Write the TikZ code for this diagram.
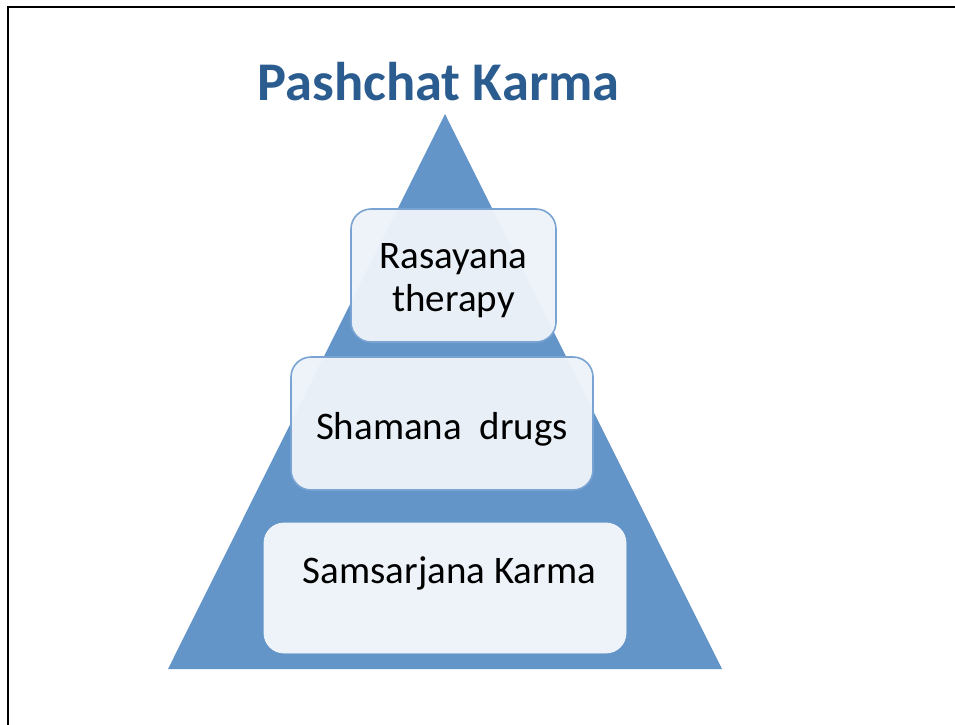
\documentclass[tikz,border=0pt]{standalone}
\usepackage{fontspec}
\setmainfont{Carlito}
\definecolor{triblue}{HTML}{6495C9}
\definecolor{boxline}{HTML}{79A3D2}
\definecolor{boxfill}{HTML}{EEF3F9}
\definecolor{titleblue}{HTML}{2A5C8F}
\tikzset{
  tierbox/.style={draw=boxline, line width=1.6pt, fill=boxfill, fill opacity=0.96, rounded corners=20pt, inner sep=0pt},
  basebox/.style={draw=boxfill, line width=0.8pt, fill=boxfill, rounded corners=20pt, inner sep=0pt},
  tiertext/.style={font=\fontsize{39}{43}\selectfont, text=black, inner sep=0pt, align=center},
  titletext/.style={font=\fontsize{54.5}{60}\selectfont\bfseries, inner sep=0pt}
}
\begin{document}
\begin{tikzpicture}[x=1pt,y=-1pt]
\useasboundingbox (0,0) rectangle (955,724);
\fill[white] (0,0) rectangle (955,724);
% frame
\draw[line width=2.6pt, line cap=rect] (8,724) -- (8,7) -- (955,7);
% title
\node[titletext, text=titleblue, anchor=base] (title) at (438.5,100) {Pashchat Karma};
% triangle
\coordinate (apex) at (445,114);
\coordinate (bl) at (168,669);
\coordinate (br) at (722,669);
\fill[triblue] (apex) -- (br) -- (bl) -- cycle;
% boxes
\path (264,523) coordinate (b3a) (626,653) coordinate (b3b);
\draw[basebox] (b3a) rectangle (b3b);
\path (291,357) coordinate (b2a) (593,490) coordinate (b2b);
\draw[tierbox] (b2a) rectangle (b2b);
\path (351,209) coordinate (b1a) (556,342) coordinate (b1b);
\draw[tierbox] (b1a) rectangle (b1b);
% texts
\node[tiertext, anchor=base] (t1a) at (453.5,268) {Rasayana};
\node[tiertext, anchor=base] (t1b) at (453.5,311) {therapy};
\node[tiertext, anchor=base] (t2) at (442,439) {Shamana\ \ drugs};
\node[tiertext, anchor=base] (t3) at (449.5,583) {Samsarjana Karma};
\end{tikzpicture}
\end{document}
